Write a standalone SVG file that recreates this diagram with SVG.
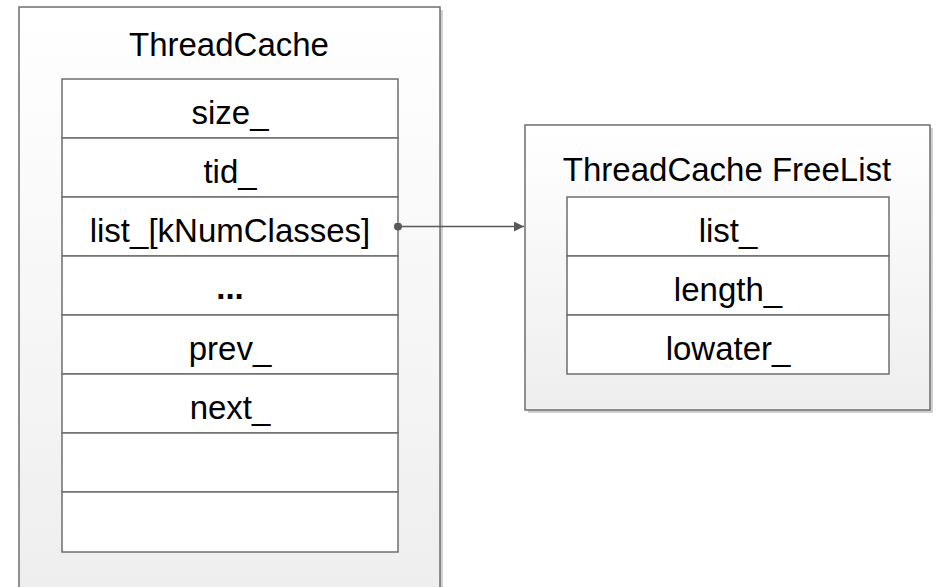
<svg xmlns="http://www.w3.org/2000/svg" width="948" height="587" viewBox="0 0 948 587">
<defs>
<linearGradient id="g1" x1="0" y1="0" x2="0" y2="1">
<stop offset="0" stop-color="#ffffff"/>
<stop offset="1" stop-color="#eeeeee"/>
</linearGradient>
<marker id="arr" viewBox="0 0 10 10" refX="10" refY="5" markerWidth="10" markerHeight="10" markerUnits="userSpaceOnUse" orient="auto">
<path d="M0,0 L10,5 L0,10 Z" fill="#595959"/>
</marker>
<marker id="dot" viewBox="0 0 10 10" refX="5" refY="5" markerWidth="8" markerHeight="8" markerUnits="userSpaceOnUse">
<circle cx="5" cy="5" r="5" fill="#595959"/>
</marker>
</defs>
<style>
.outer{fill:url(#g1);stroke:#6e6e6e;stroke-width:1.5}
.shadow{fill:#d0d0d0}
.cell{fill:#ffffff;stroke:#6e6e6e;stroke-width:1.5}
text{font-family:"Liberation Sans",Arial,sans-serif;font-size:33px;fill:#000;text-anchor:middle}
.conn{stroke:#595959;stroke-width:1.5;fill:none}
</style>
<rect width="948" height="587" fill="#ffffff"/>
<g id="threadcache">
<rect class="shadow" x="22" y="10" width="421" height="590"/>
<rect class="outer" x="19" y="7" width="421" height="590"/>
<text x="229" y="56">ThreadCache</text>
<rect class="cell" x="62" y="79" width="336" height="59"/>
<rect class="cell" x="62" y="138" width="336" height="59"/>
<rect class="cell" x="62" y="197" width="336" height="59"/>
<rect class="cell" x="62" y="256" width="336" height="59"/>
<rect class="cell" x="62" y="315" width="336" height="59"/>
<rect class="cell" x="62" y="374" width="336" height="59"/>
<rect class="cell" x="62" y="433" width="336" height="59"/>
<rect class="cell" x="62" y="492" width="336" height="60"/>
<text x="230" y="124">size_</text>
<text x="230" y="183">tid_</text>
<text x="230" y="242">list_[kNumClasses]</text>
<text x="230" y="299" font-weight="bold">...</text>
<text x="230" y="360">prev_</text>
<text x="230" y="419">next_</text>
</g>
<g id="freelist">
<rect class="shadow" x="528" y="128" width="405" height="285"/>
<rect class="outer" x="525" y="125" width="405" height="285"/>
<text x="727" y="181">ThreadCache FreeList</text>
<rect class="cell" x="567" y="197" width="322" height="59"/>
<rect class="cell" x="567" y="256" width="322" height="59"/>
<rect class="cell" x="567" y="315" width="322" height="59"/>
<text x="728" y="242">list_</text>
<text x="728" y="301">length_</text>
<text x="728" y="360">lowater_</text>
</g>
<g id="connectors">
<line class="conn" x1="398" y1="226.5" x2="524" y2="226.5" marker-start="url(#dot)" marker-end="url(#arr)"/>
</g>
</svg>
